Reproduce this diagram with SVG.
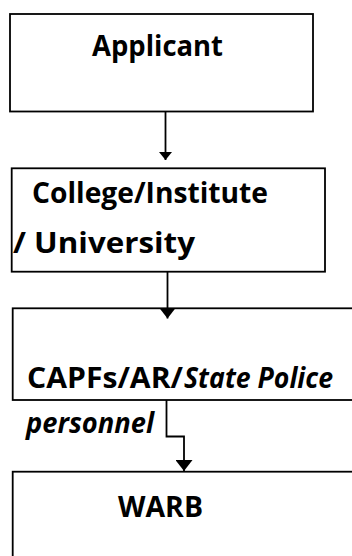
<svg xmlns="http://www.w3.org/2000/svg" width="352" height="556" viewBox="0 0 352 556">
<style>
.box{fill:#fff;stroke:#000;stroke-width:1.8}
.t{font-family:"Open Sans","Liberation Sans",sans-serif;font-weight:bold;font-size:29px;fill:#000}
.i{font-style:italic}
.c{fill:none;stroke:#000;stroke-width:1.8}
</style>
<defs>
<marker id="ahs" markerWidth="8" markerHeight="13" refX="8" refY="6.5" orient="auto" markerUnits="userSpaceOnUse">
<path d="M0,0 L8,6.5 L0,13 Z" fill="#000"/>
</marker>
<marker id="ah" markerWidth="11" markerHeight="17" refX="11" refY="8.5" orient="auto" markerUnits="userSpaceOnUse">
<path d="M0,0 L11,8.5 L0,17 Z" fill="#000"/>
</marker>
</defs>
<rect width="352" height="556" fill="#fff"/>
<g id="applicant">
<rect class="box" x="10" y="14" width="303" height="97.5"/>
<text class="t" x="92" y="56" textLength="131" lengthAdjust="spacingAndGlyphs">Applicant</text>
</g>
<g id="college">
<rect class="box" x="11.7" y="168.3" width="313.3" height="103.4"/>
<text class="t" x="32" y="203" textLength="236" lengthAdjust="spacingAndGlyphs">College/Institute</text>
<text class="t" x="13" y="253" textLength="182" lengthAdjust="spacingAndGlyphs">/ University</text>
</g>
<g id="capfs">
<rect class="box" x="12.7" y="308.3" width="350" height="91.7"/>
<text class="t" x="27" y="388" textLength="156" lengthAdjust="spacingAndGlyphs">CAPFs/AR/</text>
<text class="t i" x="184" y="388" textLength="149" lengthAdjust="spacingAndGlyphs">State Police</text>
</g>
<text class="t i" x="26" y="433" textLength="128" lengthAdjust="spacingAndGlyphs">personnel</text>
<g id="warb">
<rect class="box" x="12.7" y="471.7" width="350" height="100"/>
<text class="t" x="118" y="517" textLength="85" lengthAdjust="spacingAndGlyphs">WARB</text>
</g>
<g id="connectors">
<path class="c" d="M165.5,111.5 V160" marker-end="url(#ahs)"/>
<path class="c" d="M167.5,271.5 V318.5" marker-end="url(#ah)"/>
<path class="c" d="M166.5,400 V436.5 H184 V471" marker-end="url(#ah)"/>
</g>
</svg>
